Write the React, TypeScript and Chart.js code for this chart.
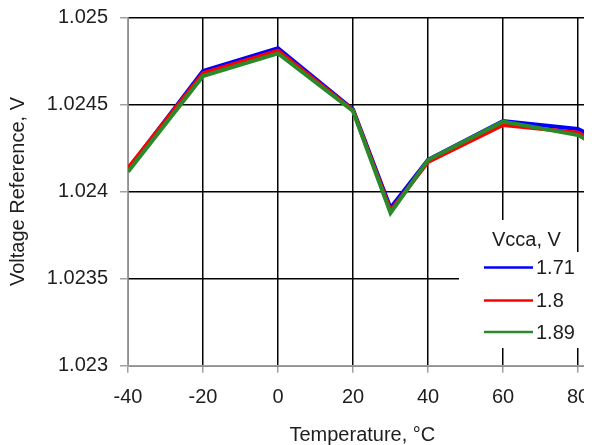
import React, { useEffect, useRef } from "react";
import { Chart, registerables } from "chart.js";

Chart.register(...registerables);

const temperatures = [-40, -20, 0, 20, 30, 40, 60, 80, 85];
const vcca171 = [1.024128, 1.024692, 1.024822, 1.024471, 1.023905, 1.024182, 1.024404, 1.024359, 1.024305];
const vcca180 = [1.024133, 1.024679, 1.024808, 1.024466, 1.02389, 1.024169, 1.024382, 1.024338, 1.024284];
const vcca189 = [1.024114, 1.024663, 1.024793, 1.024462, 1.023877, 1.024181, 1.024401, 1.024324, 1.024264];
const seriesLabels = ["1.71", "1.8", "1.89"];
const seriesColors = ["#0000ff", "#ff0000", "#2a8a2a"];
const xTicks = [-40, -20, 0, 20, 40, 60, 80];
const yTicks = [1.023, 1.0235, 1.024, 1.0245, 1.025];
const yTickLabels = ["1.023", "1.0235", "1.024", "1.0245", "1.025"];
const legendTitle = "Vcca, V";
const xTitle = "Temperature, °C";
const yTitle = "Voltage Reference, V";

const FONT = "'Liberation Sans', Arial, sans-serif";
const TEXT = "#1e1e1e";

const legendPlugin = {
  id: "customLegend",
  afterDraw(chart: any) {
    const ctx = chart.ctx;
    const left = 451;
    ctx.save();
    ctx.fillStyle = "#ffffff";
    ctx.fillRect(left, 212, 107, 33);
    ctx.fillRect(left, 244, 200, 96);
    ctx.font = `20px ${FONT}`;
    ctx.fillStyle = TEXT;
    ctx.textBaseline = "middle";
    ctx.textAlign = "left";
    ctx.fillText(legendTitle, 484, 232);
    const ys = [259.5, 292.5, 324];
    chart.data.datasets.forEach((ds: any, i: number) => {
      const y = ys[i];
      ctx.strokeStyle = ds.borderColor;
      ctx.lineWidth = 2.5;
      ctx.beginPath();
      ctx.moveTo(476, y);
      ctx.lineTo(525, y);
      ctx.stroke();
      ctx.fillStyle = TEXT;
      ctx.fillText(ds.label, 528, y + 1);
    });
    ctx.restore();
  },
};

export default function App() {
  const ref = useRef<HTMLCanvasElement>(null);
  useEffect(() => {
    if (!ref.current) return;
    const series = [vcca171, vcca180, vcca189];
    const chart = new Chart(ref.current, {
      type: "line",
      data: {
        datasets: series.map((vals, i) => ({
          label: seriesLabels[i],
          data: temperatures.map((t, j) => ({ x: t, y: vals[j] })),
          borderColor: seriesColors[i],
          backgroundColor: seriesColors[i],
          borderWidth: 4,
          pointRadius: 0,
          tension: 0,
          order: 2 - i,
        })),
      },
      options: {
        animation: false,
        responsive: false,
        devicePixelRatio: 1,
        layout: { padding: { top: 9.3, left: 0, bottom: 0, right: 11.25 } },
        plugins: { legend: { display: false }, tooltip: { enabled: false } },
        scales: {
          x: {
            type: "linear",
            min: -40,
            max: 85,
            ticks: {
              includeBounds: false,
              font: { family: FONT, size: 20 },
              color: TEXT,
              padding: 13,
              maxRotation: 0,
              autoSkip: false,
            },
            afterBuildTicks: (s: any) => {
              s.ticks = xTicks.map((v) => ({ value: v }));
            },
            grid: { color: "#000000", lineWidth: 1.5, tickColor: "#a0a0a0", tickLength: 7, tickWidth: 1.5 },
            border: { color: "#a0a0a0", width: 1.5 },
            title: {
              display: true,
              text: xTitle,
              font: { family: FONT, size: 20, lineHeight: 1 },
              color: TEXT,
              padding: 0,
            },
            afterFit: (s: any) => {
              s.height = 79.3;
              s.paddingLeft = 0;
              s.paddingRight = 0;
            },
          },
          y: {
            type: "linear",
            min: 1.023,
            max: 1.025,
            ticks: {
              font: { family: FONT, size: 20 },
              color: TEXT,
              padding: 12,
              callback: (v: any) => {
                const k = yTicks.findIndex((t) => Math.abs(t - Number(v)) < 1e-7);
                return k >= 0 ? yTickLabels[k] : "";
              },
            },
            afterBuildTicks: (s: any) => {
              s.ticks = yTicks.map((v) => ({ value: v }));
            },
            grid: { color: "#000000", lineWidth: 1.5, tickColor: "#a0a0a0", tickLength: 8, tickWidth: 1.5 },
            border: { color: "#a0a0a0", width: 1.5 },
            title: {
              display: true,
              text: yTitle,
              font: { family: FONT, size: 20, lineHeight: 1 },
              color: TEXT,
              padding: 0,
            },
            afterFit: (s: any) => {
              s.width = 120;
              s.paddingTop = 0;
              s.paddingBottom = 0;
            },
          },
        },
      },
      plugins: [legendPlugin],
    });
    return () => chart.destroy();
  }, []);
  return (
    <div style={{ width: 584, height: 437, overflow: "hidden", background: "#fff" }}>
      <canvas ref={ref} width={600} height={437} style={{ display: "block" }} />
    </div>
  );
}
